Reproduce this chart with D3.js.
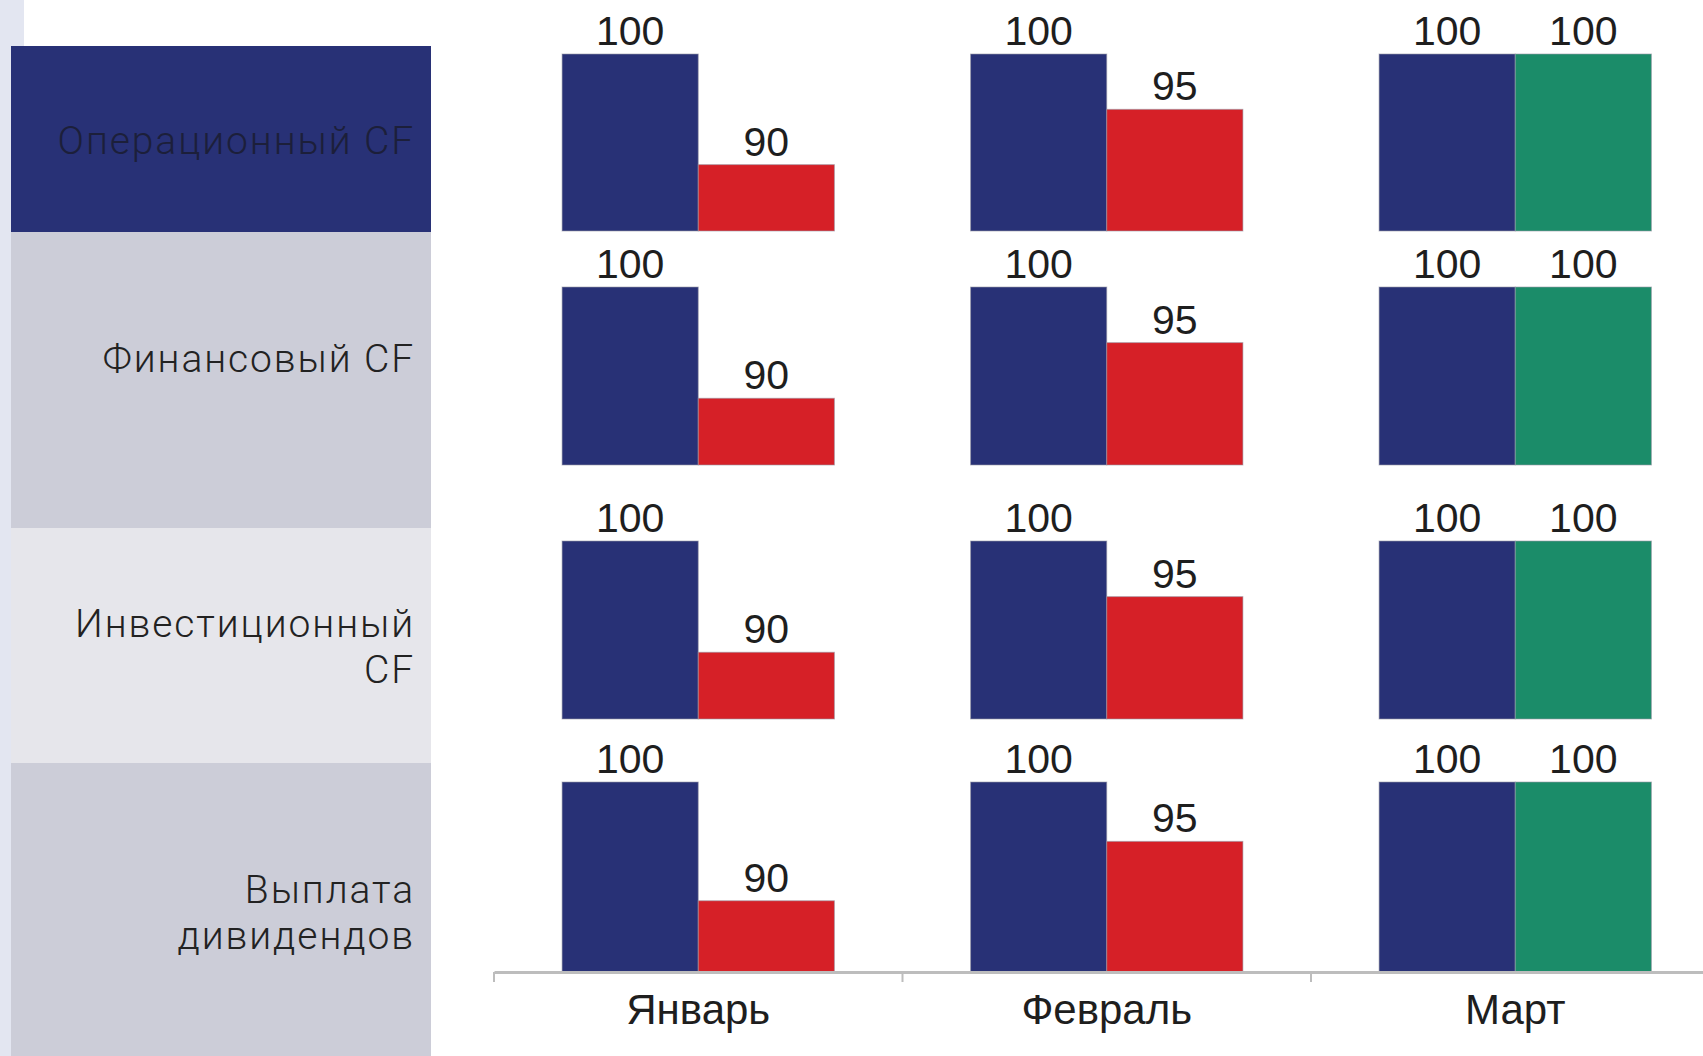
<!DOCTYPE html>
<html>
<head>
<meta charset="utf-8">
<script src="https://cdn.jsdelivr.net/npm/d3@7"></script>
<style>
  html, body { margin: 0; padding: 0; background: #fff; }
  svg { display: block; }
</style>
</head>
<body>
<div id="chart"></div>
<script>
var months = ['Январь', 'Февраль', 'Март'];
var rowLabels = [
  ['Операционный CF'],
  ['Финансовый CF'],
  ['Инвестиционный', 'CF'],
  ['Выплата', 'дивидендов']
];
var planValues = [
  [100, 100, 100],
  [100, 100, 100],
  [100, 100, 100],
  [100, 100, 100]
];
var factValues = [
  [90, 95, 100],
  [90, 95, 100],
  [90, 95, 100],
  [90, 95, 100]
];
var yDomain = [84, 100];

var W = 1703, H = 1056,
    navy = '#283176', red = '#d62027', green = '#1b8c69';

var svg = d3.select('#chart').append('svg')
    .attr('width', W)
    .attr('height', H);

// left strip + row panels
svg.append('rect').attr('x', 0).attr('y', 0).attr('width', 24).attr('height', H).attr('fill', '#e3e6f1');

var panels = [
  {y0: 46,  y1: 232,  fill: '#283176', text: '#1c1f3a', ty: 154},
  {y0: 232, y1: 528,  fill: '#cccdd8', text: '#222', ty: 372},
  {y0: 528, y1: 763,  fill: '#e6e6eb', text: '#222', ty: 637},
  {y0: 763, y1: H,    fill: '#cccdd8', text: '#222', ty: 903}
];

panels.forEach(function(p, i){
  svg.append('rect')
      .attr('x', 11).attr('y', p.y0)
      .attr('width', 420).attr('height', p.y1 - p.y0)
      .attr('fill', p.fill);

  rowLabels[i].forEach(function(line, k){
    svg.append('text')
        .attr('x', 415)
        .attr('y', p.ty + k * 46)
        .attr('text-anchor', 'end')
        .attr('font-family', 'Roboto, sans-serif')
        .attr('font-weight', 300)
        .attr('font-size', 39)
        .attr('letter-spacing', 1.9)
        .attr('fill', p.text)
        .text(line);
  });
});

// chart
var x = d3.scaleBand()
    .domain(months)
    .range([494, 494 + 3 * 408.5])
    .padding(0);

var xs = d3.scaleBand()
    .domain([0, 1])
    .range([0, x.bandwidth()])
    .paddingInner(0)
    .paddingOuter(0.5);

var rowBottoms = [231, 465, 719, 972],
    rowTops = [54, 287, 541, 782];

rowLabels.forEach(function(r, i){
  var y = d3.scaleLinear().domain(yDomain).range([rowBottoms[i], rowTops[i]]);

  var data = [];
  months.forEach(function(m, j){
    var f = factValues[i][j], p = planValues[i][j];
    data.push({month: m, s: 0, v: p, color: navy});
    data.push({month: m, s: 1, v: f, color: f >= p ? green : red});
  });

  var g = svg.append('g');

  g.selectAll('rect')
      .data(data)
    .enter().append('rect')
      .attr('x', function(d){ return x(d.month) + xs(d.s); })
      .attr('y', function(d){ return y(d.v); })
      .attr('width', xs.bandwidth())
      .attr('height', function(d){ return y(yDomain[0]) - y(d.v); })
      .attr('fill', function(d){ return d.color; })
      .attr('stroke', '#9a9aa6')
      .attr('stroke-opacity', 0.6)
      .attr('stroke-width', 1);

  g.selectAll('text')
      .data(data)
    .enter().append('text')
      .attr('x', function(d){ return x(d.month) + xs(d.s) + xs.bandwidth() / 2; })
      .attr('y', function(d){ return y(d.v) - 9; })
      .attr('text-anchor', 'middle')
      .attr('font-family', '"Liberation Sans", Arial, sans-serif')
      .attr('font-size', 41)
      .attr('fill', '#1e1e1e')
      .text(function(d){ return d.v; });
});

// x axis
var axis = svg.append('g')
    .attr('transform', 'translate(0,972)')
    .call(d3.axisBottom(x).tickSize(0).tickPadding(22));

axis.select('.domain').attr('stroke', '#bdbdbd').attr('stroke-width', 3);
axis.selectAll('text')
    .attr('font-family', '"Liberation Sans", Arial, sans-serif')
    .attr('font-size', 42)
    .attr('fill', '#1e1e1e');

axis.selectAll('.sep')
    .data(x.domain())
  .enter().append('line')
    .attr('class', 'sep')
    .attr('x1', function(d){ return x(d); })
    .attr('x2', function(d){ return x(d); })
    .attr('y1', 0).attr('y2', 10)
    .attr('stroke', '#bdbdbd')
    .attr('stroke-width', 2);
</script>
</body>
</html>
